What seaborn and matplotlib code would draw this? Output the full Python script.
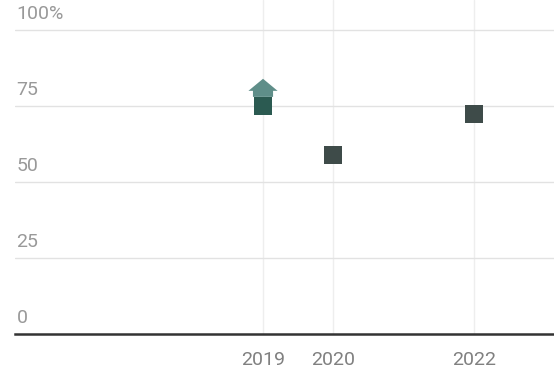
import matplotlib
matplotlib.use("Agg")
import matplotlib.pyplot as plt
import seaborn as sns
import pandas as pd
from matplotlib.path import Path
from matplotlib.transforms import blended_transform_factory

years = [2019, 2020, 2022]
values = [75, 59, 72.5]
groups = ["a", "b", "b"]
arrow_years = [2019]
arrow_values = [81]
ytick_vals = [0, 25, 50, 75, 100]
ytick_labels = ["0", "25", "50", "75", "100%"]

sns.set_theme(style="white")
plt.rcParams["font.family"] = ["Roboto", "DejaVu Sans"]

fig = plt.figure(figsize=(5.54, 3.74), dpi=100)
ax = fig.add_axes([15 / 554, 40 / 374, 1 - 15 / 554, 334 / 374])

df = pd.DataFrame({"year": years, "value": values, "group": groups})
df_arrow = pd.DataFrame({"year": arrow_years, "value": arrow_values})

house = Path([(-10, -9), (10, -9), (10, -3), (14.5, -3), (0, 9), (-14.5, -3), (-10, -3), (-10, -9)],
             [Path.MOVETO] + [Path.LINETO] * 6 + [Path.CLOSEPOLY])

sns.scatterplot(data=df_arrow, x="year", y="value", marker=house, s=21 ** 2,
                color="#5f8e89", edgecolor="none", linewidth=0, ax=ax, zorder=3)
sns.scatterplot(data=df, x="year", y="value", hue="group", marker="s", s=13 ** 2,
                palette={"a": "#2b5a51", "b": "#3e4b49"}, edgecolor="none", linewidth=0,
                ax=ax, legend=False, zorder=4)

ax.set_xlim(2015.48, 2023.13)
ax.set_ylim(0, 109.9)
ax.set_xlabel("")
ax.set_ylabel("")

ax.set_xticks(years)
ax.set_xticklabels([str(y) for y in years])
ax.tick_params(axis="x", length=0, pad=12, labelsize=14, labelcolor="#808080")
ax.set_yticks([])
for x in years:
    ax.axvline(x, color="#eeeeee", lw=1, zorder=0)
for v in ytick_vals[1:]:
    ax.axhline(v, color="#e2e2e2", lw=1, zorder=1)

trans = blended_transform_factory(ax.transAxes, ax.transData)
for v, lab in zip(ytick_vals, ytick_labels):
    ax.text(0.003, v + 2.2, lab, transform=trans, ha="left", va="bottom",
            fontsize=14, color="#999999")

for s in ["top", "right", "left"]:
    ax.spines[s].set_visible(False)
ax.spines["bottom"].set_color("#333333")
ax.spines["bottom"].set_linewidth(1.8)
ax.spines["bottom"].set_zorder(5)

fig.savefig("out.png", dpi=100)
